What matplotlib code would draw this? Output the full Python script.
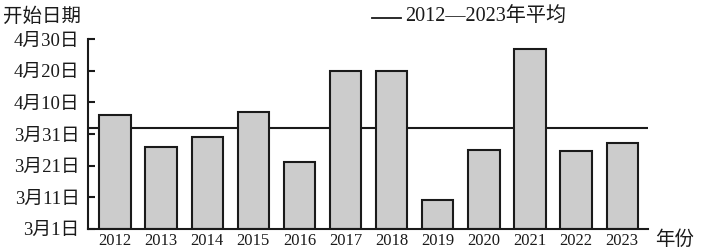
import matplotlib
matplotlib.use("Agg")
import matplotlib.pyplot as plt
from matplotlib.lines import Line2D

# Data: start date expressed as days after 3月1日
years = ['2012', '2013', '2014', '2015', '2016', '2017', '2018', '2019', '2020', '2021', '2022', '2023']
start_day = [36, 26, 29, 37, 21, 50, 50, 9, 25, 57, 24.5, 27]
avg_day = 32
ytick_values = [0, 10, 20, 30, 40, 50, 60]
ytick_labels = ['3月1日', '3月11日', '3月21日', '3月31日', '4月10日', '4月20日', '4月30日']

FONT = ['Liberation Serif', 'Noto Sans CJK SC']
plt.rcParams['font.family'] = FONT

fig = plt.figure(figsize=(7.02, 2.52), dpi=100)
ax = fig.add_axes([88/702, 1 - 228.7/252, (648 - 88)/702, (228.7 - 39.3)/252])

x = list(range(len(years)))
ax.axhline(avg_day, color='#1a1a1a', lw=1.5, zorder=1)
ax.bar(x, start_day, width=0.68, facecolor='#cccccc', edgecolor='#1a1a1a',
       linewidth=1.5, zorder=2)

ax.set_xlim(-0.585, 11.56)
ax.set_ylim(0, 60)
ax.set_xticks(x)
ax.set_xticklabels(years, fontsize=12)
ax.set_yticks(ytick_values)
ax.set_yticklabels(ytick_labels, fontsize=13.5)
ax.tick_params(axis='x', length=0, pad=3, colors='#1a1a1a')
ax.tick_params(axis='y', direction='in', length=5, width=1.5, pad=6, colors='#1a1a1a')

for s in ['top', 'right']:
    ax.spines[s].set_visible(False)
for s in ['left', 'bottom']:
    ax.spines[s].set_linewidth(1.5)
    ax.spines[s].set_color('#1a1a1a')

fig.text(3/702, 1 - 17/252, '开始日期', fontsize=14, va='center', ha='left', color='#1a1a1a')
fig.text(655/702, 1 - 240/252, '年份', fontsize=14, va='center', ha='left', color='#1a1a1a')

fig.add_artist(Line2D([372/702, 401/702], [1 - 18/252, 1 - 18/252], color='#1a1a1a', lw=1.3))
fig.text(405/702, 1 - 17/252, '2012—2023年平均', fontsize=14.5, va='center', ha='left', color='#1a1a1a')

fig.savefig('out.png', dpi=100)
